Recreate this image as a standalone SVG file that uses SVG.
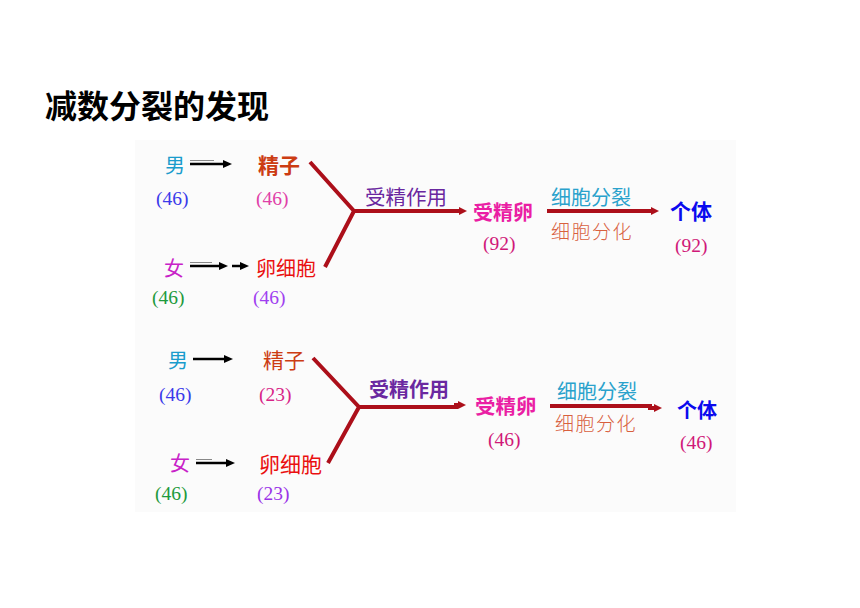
<svg xmlns="http://www.w3.org/2000/svg" width="860" height="608" viewBox="0 0 860 608">
<style>
.cj{font-family:"Noto Sans CJK SC","Noto Sans",sans-serif;font-size:20px}
.b{font-weight:bold}
.n{font-family:"Liberation Serif","DejaVu Serif",serif;font-size:19.5px}
.red{fill:none;stroke:#ac0f1a;stroke-width:4;stroke-linecap:butt}
.blk{fill:none;stroke:#000;stroke-width:2.5}
.gry{fill:none;stroke:#888;stroke-width:1}
</style>
<defs>
<marker id="ra" markerWidth="8" markerHeight="8" refX="1" refY="4" orient="auto" markerUnits="userSpaceOnUse">
<path d="M0,0 L8,4 L0,8 z" fill="#ac0f1a"/>
</marker>
<marker id="ka" markerWidth="9" markerHeight="9" refX="1" refY="4.5" orient="auto" markerUnits="userSpaceOnUse">
<path d="M0,0.5 L9,4.5 L0,8.5 z" fill="#000"/>
</marker>
</defs>
<rect width="860" height="608" fill="#fff"/>
<rect x="135" y="140" width="601" height="372" fill="#fbfbfb"/>
<text id="title" x="45" y="118" class="cj b" style="font-size:32px" fill="#000">减数分裂的发现</text>

<g id="connectors">
<!-- top -->
<line x1="190" y1="160.5" x2="214" y2="160.5" class="gry"/>
<line x1="190" y1="164" x2="224" y2="164" class="blk" marker-end="url(#ka)"/>
<line x1="190" y1="262.5" x2="212" y2="262.5" class="gry"/>
<line x1="190" y1="266" x2="220" y2="266" class="blk" marker-end="url(#ka)"/>
<line x1="232" y1="266" x2="241" y2="266" class="blk" marker-end="url(#ka)"/>
<path d="M310,162 L354,211 L325,267" class="red"/>
<line x1="354" y1="211" x2="460" y2="211" class="red" marker-end="url(#ra)"/>
<line x1="547" y1="211" x2="652" y2="211" class="red" marker-end="url(#ra)"/>
<!-- bottom -->
<line x1="193" y1="359" x2="225" y2="359" class="blk" marker-end="url(#ka)"/>
<line x1="196" y1="459.5" x2="212" y2="459.5" class="gry"/>
<line x1="196" y1="463" x2="227" y2="463" class="blk" marker-end="url(#ka)"/>
<path d="M313,358 L359,407 L328,463" class="red"/>
<path d="M359,407 H456 V405 H459" class="red" marker-end="url(#ra)"/>
<path d="M550,406 H650 V408 H655" class="red" marker-end="url(#ra)"/>
</g>

<g id="top-male">
<text x="165" y="173" class="cj" fill="#1a9ccc">男</text>
<text x="156" y="205" class="n" fill="#3a3aea">(46)</text>
</g>
<g id="top-sperm">
<text x="258" y="173" class="cj b" style="font-size:21px" fill="#cc3c12">精子</text>
<text x="256" y="205" class="n" fill="#e040a8">(46)</text>
</g>
<g id="top-female">
<text x="164" y="276" class="cj" fill="#c822c8">女</text>
<text x="152" y="304" class="n" fill="#1e9a3c">(46)</text>
</g>
<g id="top-egg">
<text x="256" y="276" class="cj" fill="#ea1010">卵细胞</text>
<text x="253" y="304" class="n" fill="#a040f0">(46)</text>
</g>
<g id="top-fert">
<text x="365" y="205" class="cj" style="font-size:20.5px" fill="#6a28a0">受精作用</text>
</g>
<g id="top-zygote">
<text x="473" y="220" class="cj b" fill="#ea1ea4">受精卵</text>
<text x="483" y="250" class="n" fill="#d01878">(92)</text>
</g>
<g id="top-div">
<text x="551" y="205" class="cj" style="font-size:20px" fill="#2aa2cc">细胞分裂</text>
<text x="551" y="239" class="cj" style="font-size:19px;letter-spacing:1.5px;font-weight:300" fill="#d8603e">细胞分化</text>
</g>
<g id="top-ind">
<text x="670" y="219" class="cj b" style="font-size:21px" fill="#0a0aee">个体</text>
<text x="675" y="252" class="n" fill="#d01878">(92)</text>
</g>

<g id="bot-male">
<text x="168" y="368" class="cj" fill="#1a9ccc">男</text>
<text x="159" y="401" class="n" fill="#3a3aea">(46)</text>
</g>
<g id="bot-sperm">
<text x="263" y="368" class="cj" style="font-size:21px" fill="#cc3c12">精子</text>
<text x="259" y="401" class="n" fill="#d82488">(23)</text>
</g>
<g id="bot-female">
<text x="170" y="471" class="cj" fill="#c822c8">女</text>
<text x="155" y="500" class="n" fill="#1e9a3c">(46)</text>
</g>
<g id="bot-egg">
<text x="259" y="472" class="cj" style="font-size:21px" fill="#ea1010">卵细胞</text>
<text x="257" y="500" class="n" fill="#9a32e8">(23)</text>
</g>
<g id="bot-fert">
<text x="369" y="397" class="cj b" fill="#6a28a0">受精作用</text>
</g>
<g id="bot-zygote">
<text x="475" y="414" class="cj b" style="font-size:20.5px" fill="#ea1ea4">受精卵</text>
<text x="488" y="446" class="n" fill="#d01878">(46)</text>
</g>
<g id="bot-div">
<text x="557" y="399" class="cj" fill="#2aa2cc">细胞分裂</text>
<text x="555" y="431" class="cj" style="font-size:19px;letter-spacing:1.5px;font-weight:300" fill="#d8603e">细胞分化</text>
</g>
<g id="bot-ind">
<text x="677" y="418" class="cj b" fill="#0a0aee">个体</text>
<text x="680" y="449" class="n" fill="#d01878">(46)</text>
</g>
</svg>
